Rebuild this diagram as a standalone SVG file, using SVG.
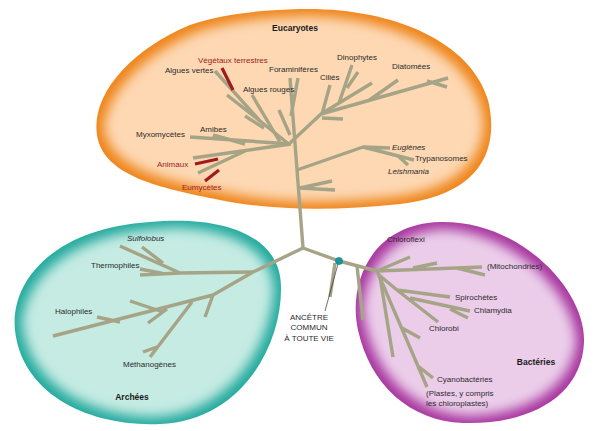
<svg xmlns="http://www.w3.org/2000/svg" width="596" height="431" viewBox="0 0 596 431">
<defs>
<filter id="inner" x="-10%" y="-10%" width="120%" height="120%">
<feMorphology operator="erode" radius="7"/>
<feGaussianBlur stdDeviation="6"/>
</filter>
<style>
.t{font-family:"Liberation Sans",Arial,sans-serif;font-size:8px;fill:#2b2b2b}
.i{font-style:italic}
.r{fill:#9c1c20}
.b{font-weight:bold;font-size:8.5px;fill:#1a1a1a}
.br{fill:none;stroke:#a6a486;stroke-width:3.4;stroke-linecap:butt;stroke-linejoin:round}
.red{fill:none;stroke:#a11a1e;stroke-width:3.2}
</style>
<path id="pEuc" d="M300,9 C390,7 470,40 488,100 C500,150 480,195 400,204 C340,210 280,212 220,200 C160,188 103,176 97,135 C91,95 130,50 190,25 C225,13 265,10 300,9 Z"/>
<path id="pArc" d="M150,222 C222,215 281,235 281,287 C282,347 240,421 160,424 C90,427 22,395 15,330 C10,280 55,228 150,222 Z"/>
<path id="pBac" d="M440,222 C520,220 586,290 584,342 C582,396 530,425 463,423 C410,421 370,385 358,330 C348,285 370,224 440,222 Z"/>
</defs>

<g id="eucaryotes">
<use href="#pEuc" fill="#ee8419"/>
<use href="#pEuc" fill="#fdd8b3" filter="url(#inner)"/>
<text class="t b" x="295" y="31" text-anchor="middle">Eucaryotes</text>
</g>
<g id="archees">
<use href="#pArc" fill="#24aa9e"/>
<use href="#pArc" fill="#c5ebe3" filter="url(#inner)"/>
<text class="t b" x="132" y="400" text-anchor="middle">Archées</text>
</g>
<g id="bacteries">
<use href="#pBac" fill="#a8369f"/>
<use href="#pBac" fill="#ebcdea" filter="url(#inner)"/>
<text class="t b" x="536" y="365" text-anchor="middle">Bactéries</text>
</g>

<g id="connectors">
<!-- trunk and root -->
<path class="br" d="M303,248 L290,78"/>
<path class="br" d="M303,248 L253,272"/>
<path class="br" d="M303,248 L339,261 L377,271"/>
<path class="br" d="M335,263 L330,297"/>
<!-- Eucaryotes lower -->
<path class="br" d="M300,188 L335,190 M300,188 L332,181"/>
<path class="br" d="M297,170 L363,147 L390,148 M363,147 L414,160 M398,156 L408,165"/>
<!-- Eucaryotes left -->
<path class="br" d="M291,144 L190,137 M213,135 L245,144"/>
<path class="br" d="M291,144 L193,158 M245,151 L198,173"/>
<path class="red" d="M195,164 L218,159 M205,181 L219,170"/>
<!-- Eucaryotes upper-left -->
<path class="br" d="M290,145 L260,121 L215,71 M227,95 L260,121"/>
<path class="red" d="M222,68 L233,90"/>
<path class="br" d="M280,142 L252,95 M245,116 L264,128"/>
<path class="br" d="M291,116 L298,78 M290,135 L279,110"/>
<!-- Eucaryotes upper-right -->
<path class="br" d="M290,143 L321,114 L372,83"/>
<path class="br" d="M322,114 L330,85"/>
<path class="br" d="M339,103 L352,65 M347,88 L358,72"/>
<path class="br" d="M321,114 L448,78 M427,81 L447,87 M368,101 L398,80"/>
<path class="br" d="M322,118 L343,119"/>
<!-- Archees -->
<path class="br" d="M253,272 L180,273 L140,275 M180,273 L120,246 M163,263 L142,247 M140,269 L165,274"/>
<path class="br" d="M253,272 L213,295 L53,336 M213,295 L205,317 M192,302 L150,357 M157,347 L143,352 M167,309 L148,323 M163,312 L130,301 M97,317 L120,322"/>
<!-- Bacteries -->
<path class="br" d="M357,266 L363,320"/>
<path class="br" d="M377,271 L410,257"/>
<path class="br" d="M377,271 L482,267 M413,268 L437,263 M457,268 L485,275"/>
<path class="br" d="M380,277 L393,357"/>
<path class="br" d="M377,271 L427,387 M402,328 L420,338 M418,366 L433,378"/>
<path class="br" d="M379,275 L397,290 L450,297 M397,290 L438,322 M410,298 L470,311 M450,309 L468,318"/>
<!-- ancestor leader -->
<path d="M338,264 L325,311" stroke="#333" stroke-width="0.7" fill="none"/>
</g>

<g id="ancetre">
<circle cx="339" cy="261" r="3.6" fill="#17979a" stroke="#0e7b7e" stroke-width="0.6"/>
<text class="t" x="309" y="320" text-anchor="middle">ANCÊTRE</text>
<text class="t" x="309" y="330" text-anchor="middle">COMMUN</text>
<text class="t" x="309" y="341" text-anchor="middle">À TOUTE VIE</text>
</g>

<g id="labels-euc">
<text class="t r" x="198" y="63">Végétaux terrestres</text>
<text class="t" x="165" y="73">Algues vertes</text>
<text class="t" x="269" y="72">Foraminifères</text>
<text class="t" x="320" y="80">Ciliés</text>
<text class="t" x="337" y="60">Dinophytes</text>
<text class="t" x="392" y="69">Diatomées</text>
<text class="t" x="243" y="92">Algues rouges</text>
<text class="t" x="136" y="137">Myxomycètes</text>
<text class="t" x="200" y="132">Amibes</text>
<text class="t r" x="157" y="167">Animaux</text>
<text class="t r" x="182" y="190">Eumycètes</text>
<text class="t i" x="392" y="150">Euglènes</text>
<text class="t" x="415" y="161">Trypanosomes</text>
<text class="t i" x="388" y="174">Leishmania</text>
</g>
<g id="labels-arch">
<text class="t i" x="127" y="241">Sulfolobus</text>
<text class="t" x="91" y="268">Thermophiles</text>
<text class="t" x="55" y="314">Halophiles</text>
<text class="t" x="123" y="367">Méthanogènes</text>
</g>
<g id="labels-bact">
<text class="t" x="387" y="242">Chloroflexi</text>
<text class="t" x="487" y="269">(Mitochondries)</text>
<text class="t" x="455" y="300">Spirochètes</text>
<text class="t" x="474" y="313">Chlamydia</text>
<text class="t" x="429" y="331">Chlorobi</text>
<text class="t" x="437" y="382">Cyanobactéries</text>
<text class="t" x="426" y="396">(Plastes, y compris</text>
<text class="t" x="426" y="406">les chloroplastes)</text>
</g>
</svg>
